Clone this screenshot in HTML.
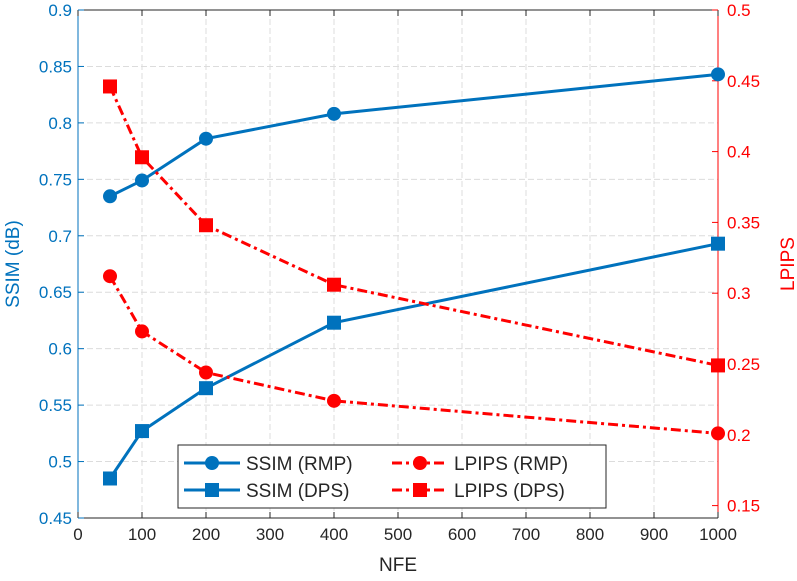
<!DOCTYPE html>
<html><head><meta charset="utf-8"><style>
body{margin:0;background:#fff;}
svg text{font-family:"Liberation Sans",sans-serif;}
</style></head><body>
<svg id="chart" width="797" height="576" xmlns="http://www.w3.org/2000/svg"></svg>
<script>
const nfe=[50,100,200,400,1000];
const ssimRMP=[0.735,0.749,0.786,0.808,0.843];
const ssimDPS=[0.485,0.527,0.565,0.623,0.693];
const lpipsRMP=[0.312,0.273,0.244,0.224,0.201];
const lpipsDPS=[0.446,0.396,0.348,0.306,0.249];
const xTicks=[0,100,200,300,400,500,600,700,800,900,1000];
const yLTicks=[0.45,0.5,0.55,0.6,0.65,0.7,0.75,0.8,0.85,0.9];
const yRTicks=[0.15,0.2,0.25,0.3,0.35,0.4,0.45,0.5];

const L=78,R=718,T=10,B=518;
const BLUE='#0072BD',RED='#FF0000';
const xs=v=>L+(v-0)/1000*(R-L);
const yl=v=>B-(v-0.45)/0.45*(B-T);
const yr=v=>T+(0.5-v)/0.05*70.8;
const svg=document.getElementById('chart');
const NS='http://www.w3.org/2000/svg';
function mk(tag,attrs,parent){const e=document.createElementNS(NS,tag);for(const k in attrs)e.setAttribute(k,attrs[k]);(parent||svg).appendChild(e);return e;}

const grid=mk('g',{});


xTicks.forEach(t=>{mk('line',{x1:xs(t),x2:xs(t),y1:T,y2:B,stroke:'#dcdcdc','stroke-dasharray':'6,3','stroke-width':1},grid);});
yLTicks.forEach(t=>{mk('line',{x1:L,x2:R,y1:yl(t),y2:yl(t),stroke:'#dcdcdc','stroke-dasharray':'6,3','stroke-width':1},grid);});

const ax=mk('g',{});


mk('line',{x1:L,x2:R,y1:B,y2:B,stroke:'#262626'},ax);
mk('line',{x1:L,x2:R,y1:T,y2:T,stroke:'#262626'},ax);
mk('line',{x1:L,x2:L,y1:T,y2:B,stroke:BLUE},ax);
mk('line',{x1:R,x2:R,y1:T,y2:B,stroke:RED},ax);
xTicks.forEach(t=>{
  mk('line',{x1:xs(t),x2:xs(t),y1:B,y2:B-6,stroke:'#262626'},ax);
  mk('line',{x1:xs(t),x2:xs(t),y1:T,y2:T+6,stroke:'#262626'},ax);
  const tx=mk('text',{x:xs(t),y:B+22,'text-anchor':'middle','font-size':17,fill:'#262626'},ax);tx.textContent=t;
});
yLTicks.forEach(t=>{
  mk('line',{x1:L,x2:L+6,y1:yl(t),y2:yl(t),stroke:BLUE},ax);
  const tx=mk('text',{x:L-6,y:yl(t)+6,'text-anchor':'end','font-size':17,fill:BLUE},ax);tx.textContent=t;
});
yRTicks.forEach(t=>{
  mk('line',{x1:R,x2:R-6,y1:yr(t),y2:yr(t),stroke:RED},ax);
  const tx=mk('text',{x:R+9,y:yr(t)+6,'text-anchor':'start','font-size':17,fill:RED},ax);tx.textContent=t;
});
const xt=mk('text',{x:(L+R)/2,y:571,'text-anchor':'middle','font-size':19,fill:'#262626'});xt.textContent='NFE';

const ylt=mk('text',{x:0,y:0,transform:`translate(19,${(T+B)/2}) rotate(-90)`,'text-anchor':'middle','font-size':19,fill:BLUE});ylt.textContent='SSIM (dB)';

const yrt=mk('text',{x:0,y:0,transform:`translate(794,${(T+B)/2}) rotate(-90)`,'text-anchor':'middle','font-size':19,fill:RED});yrt.textContent='LPIPS';


function marker(g,shape,x,y,c){
  if(shape==='o')mk('circle',{cx:x,cy:y,r:7,fill:c},g);
  else mk('rect',{x:x-7,y:y-7,width:14,height:14,fill:c},g);
}
function series(name,vals,yf,c,shape,dash){
  const g=mk('g',{});
  
  
  const pts=nfe.map((n,i)=>xs(n)+','+yf(vals[i])).join(' ');
  const a={points:pts,fill:'none',stroke:c,'stroke-width':3};
  if(dash)a['stroke-dasharray']=dash;
  mk('polyline',a,g);
  nfe.forEach((n,i)=>marker(g,shape,xs(n),yf(vals[i]),c));
}
series('ssim-rmp-line',ssimRMP,yl,BLUE,'o');
series('ssim-dps-line',ssimDPS,yl,BLUE,'s');
series('lpips-rmp-line',lpipsRMP,yr,RED,'o','10,4,3,4');
series('lpips-dps-line',lpipsDPS,yr,RED,'s','10,4,3,4');

const lg=mk('g',{});


mk('rect',{x:178,y:445,width:428,height:63,fill:'#fff',stroke:'#262626'},lg);
const items=[['SSIM (RMP)',BLUE,'o',null,184,463],['LPIPS (RMP)',RED,'o','10,4,3,4',392,463],['SSIM (DPS)',BLUE,'s',null,184,490],['LPIPS (DPS)',RED,'s','10,4,3,4',392,490]];
items.forEach(it=>{
  const e=mk('g',{},lg);
  
  
  const a={x1:it[4],x2:it[4]+56,y1:it[5],y2:it[5],stroke:it[1],'stroke-width':3};
  if(it[3])a['stroke-dasharray']=it[3];
  mk('line',a,e);
  marker(e,it[2],it[4]+28,it[5],it[1]);
  const t=mk('text',{x:it[4]+62,y:it[5]+7,'font-size':19,fill:'#262626'},e);t.textContent=it[0];
});
</script>
</body></html>
